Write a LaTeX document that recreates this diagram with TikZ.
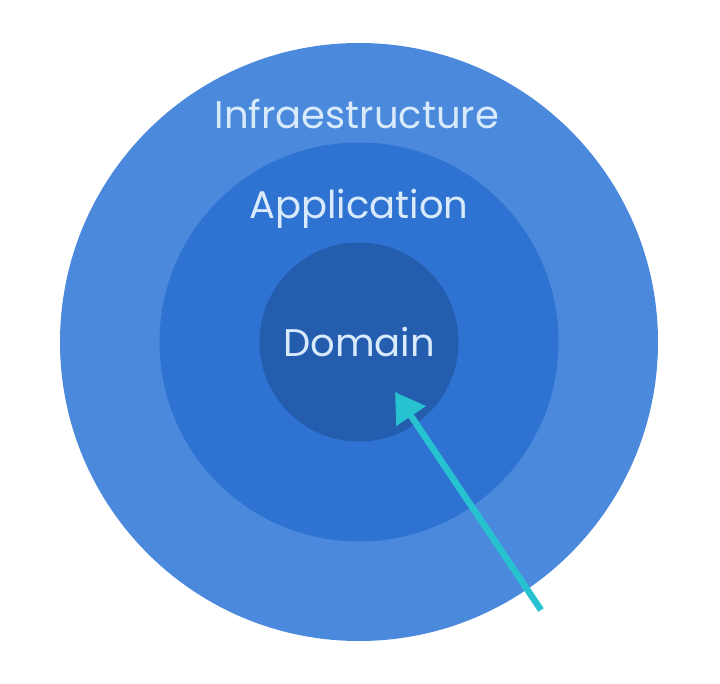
\documentclass[tikz,border=0pt]{standalone}
\usepackage{fontspec}
\setmainfont{Poppins}
\usetikzlibrary{arrows.meta,positioning}

\definecolor{ringouter}{HTML}{4A89DC}
\definecolor{ringmid}{HTML}{2E72D2}
\definecolor{ringinner}{HTML}{245CAE}
\definecolor{labeltext}{HTML}{D8EAFB}
\definecolor{arrowteal}{HTML}{27C2CF}

\tikzset{
  ring/.style={circle, inner sep=0pt, minimum size=#1},
  layername/.style={text=labeltext, font=\fontsize{38.5}{44}\selectfont, inner sep=0pt}
}

\begin{document}
\begin{tikzpicture}[x=1pt, y=-1pt]

% canvas
\useasboundingbox (0,0) rectangle (720,684);

% layers
\node[ring=598pt, fill=ringouter] (infra) at (359,342) {};
\node[ring=399pt, fill=ringmid] (app) at (359,342) {};
\node[ring=199pt, fill=ringinner] (domain) at (359,342) {};

% labels
\node[layername] (infralabel) at (357,114) {Infraestructure};
\node[layername] (applabel) at (359,209) {Application};
\node[layername] (domainlabel) at (359,342) {Domain};

% dependency arrow
\coordinate (tail) at (541,610);
\coordinate (tip) at (395,392);
\draw[-{Triangle[length=29pt, width=34pt]}, line width=6.5pt, arrowteal] (tail) -- (tip);

\end{tikzpicture}
\end{document}
